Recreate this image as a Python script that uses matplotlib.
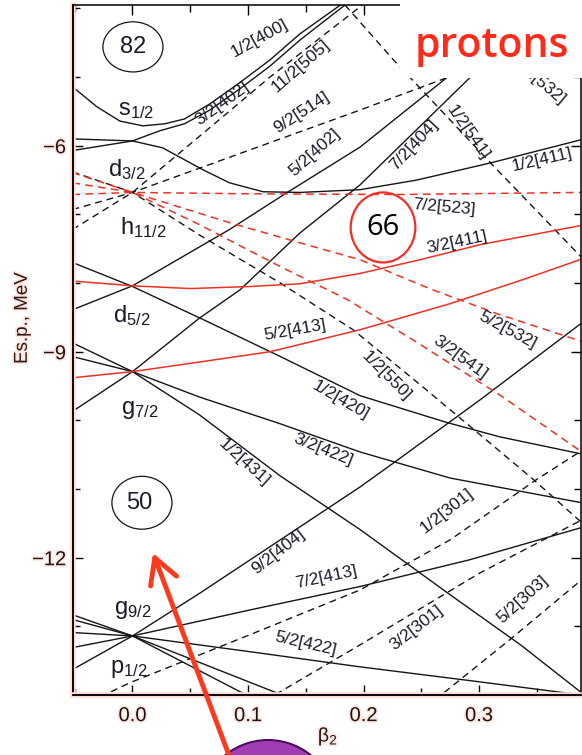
import matplotlib
matplotlib.use("Agg")
import matplotlib.pyplot as plt
import matplotlib.patheffects as pe
from matplotlib.patches import Ellipse, Rectangle, FancyArrowPatch

plt.rcParams['font.family'] = ['Liberation Sans', 'DejaVu Sans']
plt.rcParams['mathtext.fontset'] = 'custom'
plt.rcParams['mathtext.rm'] = 'Liberation Sans'
plt.rcParams['mathtext.it'] = 'Liberation Sans:italic'
plt.rcParams['mathtext.bf'] = 'Liberation Sans:bold'

# ── Nilsson levels, proton (beta2, E in MeV) ────────────────────────────────
# black solid
b_400 = [-0.052, -0.031, -0.011, 0.009, 0.028, 0.045, 0.067, 0.093, 0.119, 0.145, 0.180]
e_400 = [-5.14, -5.43, -5.64, -5.71, -5.68, -5.61, -5.39, -5.08, -4.75, -4.37, -3.95]
b_3402 = [-0.052, 0.0, 0.024, 0.045, 0.067, 0.093, 0.119, 0.145, 0.184]
e_3402 = [-6.07, -5.93, -5.78, -5.68, -5.48, -5.17, -4.84, -4.46, -3.95]
b_411 = [-0.052, 0.0, 0.026, 0.061, 0.084, 0.113, 0.145, 0.197, 0.246, 0.310, 0.389]
e_411 = [-5.90, -5.93, -6.03, -6.35, -6.54, -6.67, -6.68, -6.64, -6.50, -6.25, -5.91]
b_5402 = [-0.052, 0.0, 0.084, 0.134, 0.197, 0.272, 0.318]
e_5402 = [-8.39, -8.04, -7.22, -6.68, -6.02, -5.01, -4.35]
b_7404 = [-0.052, 0.0, 0.058, 0.093, 0.145, 0.197, 0.292, 0.357]
e_7404 = [-9.87, -9.29, -8.51, -8.10, -7.27, -6.57, -5.01, -3.95]
b_420 = [-0.052, 0.0, 0.061, 0.128, 0.197, 0.272, 0.318, 0.389]
e_420 = [-7.70, -8.05, -8.53, -9.07, -9.64, -10.03, -10.24, -10.49]
b_3422 = [-0.052, 0.0, 0.058, 0.128, 0.197, 0.275, 0.389]
e_3422 = [-9.07, -9.29, -9.66, -10.05, -10.46, -10.84, -11.20]
b_1431 = [-0.052, 0.0, 0.058, 0.128, 0.197, 0.275, 0.336, 0.389]
e_1431 = [-8.87, -9.29, -9.92, -10.81, -11.59, -12.54, -13.27, -13.97]
b_9404 = [-0.052, 0.0, 0.058, 0.128, 0.197, 0.226, 0.301, 0.389]
e_9404 = [-13.63, -13.14, -12.52, -11.74, -10.97, -10.62, -9.70, -8.58]
b_7413 = [-0.052, 0.0, 0.102, 0.197, 0.292, 0.389]
e_7413 = [-13.31, -13.14, -12.76, -12.42, -12.03, -11.56]
b_5422 = [-0.052, 0.0, 0.102, 0.197, 0.292, 0.389]
e_5422 = [-13.09, -13.14, -13.37, -13.59, -13.79, -14.00]
b_3431 = [-0.052, 0.0, 0.134]
e_3431 = [-12.90, -13.14, -14.03]
b_440 = [-0.052, 0.0, 0.102]
e_440 = [-12.83, -13.14, -14.03]
# red solid
b_3411 = [-0.052, 0.0, 0.050, 0.102, 0.145, 0.197, 0.249, 0.301, 0.389]
e_3411 = [-7.97, -8.04, -8.08, -8.05, -8.01, -7.86, -7.66, -7.44, -7.16]
b_5413 = [-0.052, 0.0, 0.058, 0.119, 0.197, 0.275, 0.338, 0.389]
e_5413 = [-9.38, -9.29, -9.15, -9.00, -8.68, -8.30, -7.95, -7.65]
# red dashed
b_523 = [-0.052, 0.0, 0.102, 0.231, 0.389]
e_523 = [-6.71, -6.68, -6.70, -6.71, -6.68]
b_532 = [-0.052, 0.0, 0.084, 0.142, 0.197, 0.260, 0.318, 0.389]
e_532 = [-6.54, -6.68, -7.12, -7.40, -7.66, -8.10, -8.46, -8.85]
b_3541 = [-0.052, 0.0, 0.058, 0.128, 0.186, 0.243, 0.318, 0.389]
e_3541 = [-6.39, -6.68, -7.15, -7.76, -8.24, -8.83, -9.63, -10.46]
# black dashed
b_550 = [-0.052, 0.0, 0.058, 0.128, 0.191, 0.249, 0.301, 0.347, 0.389]
e_550 = [-6.38, -6.68, -7.30, -8.00, -8.68, -9.48, -10.21, -10.86, -11.49]
b_514 = [-0.052, 0.0, 0.197, 0.272, 0.389]
e_514 = [-6.93, -6.68, -5.48, -5.01, -4.33]
b_505 = [-0.052, 0.0, 0.078, 0.119, 0.199]
e_505 = [-7.22, -6.68, -5.58, -5.00, -3.95]
b_1541 = [0.184, 0.226, 0.310, 0.389]
e_1541 = [-3.95, -4.75, -6.25, -7.63]
b_1301 = [-0.037, -0.002, 0.102, 0.197, 0.275, 0.350, 0.389]
e_1301 = [-14.10, -13.82, -13.12, -12.47, -11.74, -10.86, -10.44]
b_3301 = [0.115, 0.197, 0.301, 0.389]
e_3301 = [-14.08, -13.27, -12.22, -11.45]
b_5303 = [0.262, 0.327, 0.389]
e_5303 = [-14.07, -13.19, -12.32]

# orbit labels: text, beta, E, angle
orb_text = ["1/2[400]", "11/2[505]", "3/2[402]", "9/2[514]", "5/2[402]", "7/2[404]",
            "1/2[541]", "1/2[411]", "7/2[523]", "3/2[411]", "5/2[413]", "5/2[532]",
            "3/2[541]", "1/2[550]", "1/2[420]", "3/2[422]", "1/2[431]", "9/2[404]",
            "7/2[413]", "5/2[422]", "1/2[301]", "3/2[301]", "5/2[303]", "3/2[532]"]
orb_b = [0.110, 0.146, 0.0775, 0.146, 0.158, 0.244, 0.290, 0.355, 0.270, 0.281, 0.141, 0.325,
         0.284, 0.220, 0.180, 0.165, 0.0965, 0.126, 0.168, 0.150, 0.272, 0.246, 0.338, 0.352]
orb_e = [-4.43, -4.84, -5.39, -5.51, -6.09, -5.99, -5.81, -6.20, -6.89, -7.40, -8.69, -8.69,
         -9.09, -9.35, -9.71, -10.43, -10.62, -11.91, -12.29, -13.25, -11.32, -13.02, -12.61, -5.06]
orb_rot = [29, 41, 36, 33, 42, 47, -55, 13, -5, 12, 10, -28,
           -36, -45, -30, -22, -42, 38, 12, -13, 38, 38, 42, -40]

# spherical shells at beta=0
shell_text = [r"$\mathrm{s}_{\mathrm{1/2}}$", r"$\mathrm{d}_{\mathrm{3/2}}$", r"$\mathrm{h}_{\mathrm{11/2}}$",
              r"$\mathrm{d}_{\mathrm{5/2}}$", r"$\mathrm{g}_{\mathrm{7/2}}$", r"$\mathrm{g}_{\mathrm{9/2}}$",
              r"$\mathrm{p}_{\mathrm{1/2}}$"]
shell_b = [0.003, -0.005, 0.009, -0.001, 0.006, 0.0, -0.003]
shell_e = [-5.48, -6.34, -7.19, -8.48, -9.85, -12.76, -13.62]

# magic numbers
magic = ["82", "50", "66"]
magic_b = [0.0004, 0.0082, 0.2169]
magic_e = [-4.56, -11.20, -7.19]

xticks = [0.0, 0.1, 0.2, 0.3]
xticklabels = ["0.0", "0.1", "0.2", "0.3"]
yticks = [-12, -9, -6]

BLACK = "#151515"
RED = "#ee3124"
TXT = "#1a1a2a"
DASH = (0, (5, 3.5))

fig = plt.figure(figsize=(5.82, 7.55), dpi=100)
ax = fig.add_axes([73 / 582, 60 / 755, 508 / 582, 690 / 755])

black_solid = [(b_400, e_400), (b_3402, e_3402), (b_411, e_411), (b_5402, e_5402),
               (b_7404, e_7404), (b_420, e_420), (b_3422, e_3422), (b_1431, e_1431),
               (b_9404, e_9404), (b_7413, e_7413), (b_5422, e_5422), (b_3431, e_3431),
               (b_440, e_440)]
red_solid = [(b_3411, e_3411), (b_5413, e_5413)]
red_dashed = [(b_523, e_523), (b_532, e_532), (b_3541, e_3541)]
black_dashed = [(b_550, e_550), (b_514, e_514), (b_505, e_505), (b_1541, e_1541),
                (b_1301, e_1301), (b_3301, e_3301), (b_5303, e_5303)]

for b, e in black_solid:
    ax.plot(b, e, color=BLACK, lw=1.0)
for b, e in black_dashed:
    ax.plot(b, e, color=BLACK, lw=1.0, ls=DASH)
for b, e in red_solid:
    ax.plot(b, e, color=RED, lw=1.1)
for b, e in red_dashed:
    ax.plot(b, e, color=RED, lw=1.1, ls=DASH)

for t, b, e, r in zip(orb_text, orb_b, orb_e, orb_rot):
    ax.text(b, e, t, rotation=r, rotation_mode="anchor", ha="center", va="center",
            fontsize=12.5, color=TXT, zorder=2.8)

for t, b, e in zip(shell_text, shell_b, shell_e):
    ax.text(b, e, t, ha="center", va="center", fontsize=17, color=TXT)

# magic number ellipses
ax.add_patch(Ellipse((magic_b[0], magic_e[0]), 0.052, 0.73, fill=False, ec=BLACK, lw=0.9))
ax.add_patch(Ellipse((magic_b[1], magic_e[1]), 0.052, 0.77, fill=False, ec=BLACK, lw=0.9))
ax.add_patch(Ellipse((magic_b[2], magic_e[2]), 0.056, 1.02, fill=False, ec=RED, lw=1.6, zorder=3))
ax.text(magic_b[0], magic_e[0], magic[0], ha="center", va="center", fontsize=17, color=TXT)
ax.text(magic_b[1] - 0.002, magic_e[1], magic[1], ha="center", va="center", fontsize=17, color=TXT)
ax.text(magic_b[2], magic_e[2], magic[2], ha="center", va="center", fontsize=21,
        family="Open Sans", color="black", zorder=3)

ax.set_xlim(-0.0515, 0.3883)
ax.set_ylim(-14, -3.95)
ax.set_xticks(xticks)
ax.set_xticklabels(xticklabels)
ax.set_xticks([-0.05, 0.05, 0.15, 0.25, 0.35], minor=True)
ax.set_yticks(yticks)
ax.set_yticks(range(-14, -3), minor=True)
ax.tick_params(which="both", direction="in", top=True, right=True, labelsize=14.5,
               labelcolor="#1e1410")
ax.tick_params(which="major", length=7, width=1.0)
ax.tick_params(which="minor", length=5, width=1.0)
ax.tick_params(axis="x", pad=8)
ax.tick_params(axis="y", pad=5)

glow = [pe.withStroke(linewidth=2.5, foreground="#ffe6e2")]
for lbl in ax.get_xticklabels() + ax.get_yticklabels():
    lbl.set_path_effects(glow)
for side in ["left", "bottom"]:
    ax.spines[side].set_path_effects([pe.withStroke(linewidth=4, foreground="#ffdcd6"), pe.Normal()])
for s in ax.spines.values():
    s.set_linewidth(1.1)

ax.set_ylabel("Es.p., MeV", fontsize=13.5, color="#2e1a10", path_effects=glow)
ax.yaxis.set_label_coords(-0.083, 0.546)
fig.text(328 / 582, 1 - 737 / 755, r"$\mathrm{β}_{\mathrm{2}}$", ha="center", va="center",
         fontsize=14, color="#1e1410", path_effects=glow)

# white box behind the "protons" tag
fig.add_artist(Rectangle((400 / 582, 1 - 78 / 755), 182 / 582, 78 / 755,
                         transform=fig.transFigure, fc="white", ec="none", zorder=1))
fig.text(492 / 582, 1 - 46 / 755, "protons", ha="center", va="center", fontsize=29.5,
         family="Open Sans", fontweight="semibold", color="#ff2a1a", zorder=3)

# purple blob at the bottom and red arrow pointing to 50
fig.add_artist(Ellipse((268 / 582, 1 - 808 / 755), 2 * 68 / 582, 2 * 68 / 755,
                       transform=fig.transFigure, fc="#a23cb5", ec="#4a1060", lw=1.5, zorder=1))
fig.add_artist(FancyArrowPatch((230 / 582, 1 - 758 / 755), (153 / 582, 1 - 553 / 755),
                               transform=fig.transFigure, arrowstyle="->,head_length=0.45,head_width=0.25",
                               mutation_scale=40, lw=3.5, color="#fa3a1e", shrinkA=0, shrinkB=0,
                               zorder=2))

fig.savefig("out.png", dpi=100)
